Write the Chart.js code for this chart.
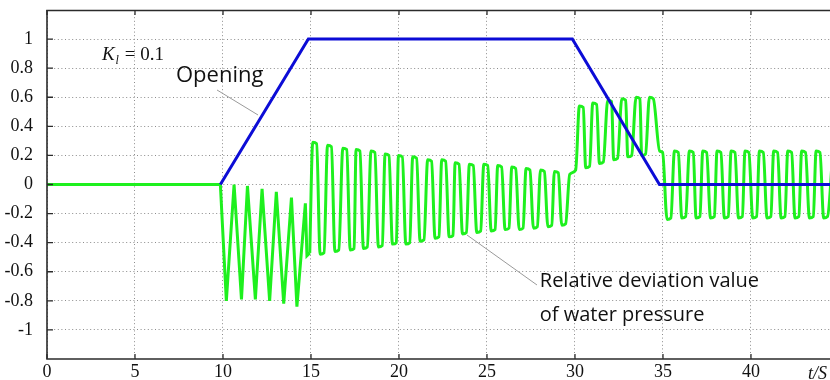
<!DOCTYPE html>
<html><head><meta charset="utf-8">
<script src="https://cdn.jsdelivr.net/npm/chart.js@4/dist/chart.umd.min.js"></script>
<style>html,body{margin:0;padding:0;background:#fff;overflow:hidden}canvas{display:block}</style>
</head><body>
<canvas id="c" width="830" height="380"></canvas>
<script>
// ---- tick labels ----
const xTicks = [0, 5, 10, 15, 20, 25, 30, 35, 40];
const yTicks = [-1, -0.8, -0.6, -0.4, -0.2, 0, 0.2, 0.4, 0.6, 0.8, 1];
const xAxisName = 't/S';

// ---- opening (blue) ----
const openingT = [9.85, 14.85, 29.85, 34.8, 44.6];
const openingV = [0, 1, 1, 0, 0];

// ---- relative deviation of water pressure (green) ----
// segment 0-15 s (sharp triangular oscillation)
const devA_T = [0, 9.85, 10.19, 10.63, 11.05, 11.39, 11.84, 12.22, 12.65, 13.03, 13.45, 13.89, 14.20, 14.68, 14.77, 14.93];
const devA_V = [0, 0, -0.80, 0.00, -0.79, -0.01, -0.79, -0.03, -0.80, -0.05, -0.82, -0.09, -0.84, -0.13, -0.49, -0.47];
// segment 15-30 s
const devB_T = [14.93,
  15.10, 15.32, 15.52, 15.74, 15.94, 16.16, 16.36, 16.58, 16.81, 17.03, 17.23, 17.45,
  17.56, 17.78, 17.98, 18.20, 18.41, 18.63, 18.83, 19.05, 19.21, 19.43, 19.63, 19.85,
  19.97, 20.19, 20.39, 20.61, 20.78, 21.00, 21.20, 21.42, 21.63, 21.85, 22.05, 22.27,
  22.43, 22.65, 22.85, 23.07, 23.19, 23.41, 23.61, 23.83, 24.00, 24.22, 24.42, 24.64,
  24.82, 25.04, 25.24, 25.46, 25.61, 25.83, 26.03, 26.25, 26.41, 26.63, 26.83, 27.05,
  27.22, 27.44, 27.64, 27.86, 28.04, 28.26, 28.46, 28.68, 28.83, 29.05, 29.25, 29.47,
  29.70, 30.04];
const devB_V = [-0.47,
  0.29, 0.28, -0.48, -0.47, 0.27, 0.26, -0.46, -0.45, 0.25, 0.24, -0.45, -0.44,
  0.24, 0.23, -0.44, -0.43, 0.23, 0.22, -0.43, -0.42, 0.21, 0.20, -0.41, -0.40,
  0.20, 0.19, -0.41, -0.40, 0.19, 0.18, -0.39, -0.38, 0.17, 0.16, -0.37, -0.36,
  0.17, 0.16, -0.36, -0.35, 0.15, 0.14, -0.34, -0.33, 0.14, 0.13, -0.33, -0.32,
  0.14, 0.13, -0.32, -0.31, 0.13, 0.12, -0.31, -0.30, 0.12, 0.11, -0.31, -0.30,
  0.11, 0.10, -0.30, -0.29, 0.10, 0.09, -0.29, -0.28, 0.09, 0.08, -0.28, -0.27,
  0.07, 0.10];
// segment 30-35 s
const devC_T = [30.25, 30.47, 30.61, 30.83, 31.01, 31.23, 31.39, 31.61, 31.86, 32.08, 32.20, 32.42,
  32.66, 32.88, 33.00, 33.22, 33.47, 33.69, 33.79, 34.01, 34.23, 34.45, 34.81, 34.98];
const devC_V = [0.54, 0.53, 0.115, 0.125, 0.56, 0.55, 0.145, 0.155, 0.58, 0.57, 0.17, 0.18,
  0.59, 0.58, 0.19, 0.20, 0.60, 0.59, 0.20, 0.21, 0.60, 0.59, 0.23, 0.22];
// segment 35 s onwards
const devD_T = [35.23, 35.45, 35.65, 35.87, 36.07, 36.29, 36.50, 36.72, 36.88, 37.10, 37.26, 37.48,
  37.70, 37.92, 38.07, 38.29, 38.49, 38.71, 38.87, 39.09, 39.29, 39.51, 39.66, 39.88,
  40.10, 40.32, 40.48, 40.70, 40.91, 41.13, 41.29, 41.51, 41.71, 41.93, 42.09, 42.31,
  42.50, 42.72, 42.88, 43.10, 43.32, 43.54, 43.70, 43.92, 44.13, 44.35, 44.65];
const devD_V = [-0.24, -0.23, 0.23, 0.22, -0.23, -0.22, 0.23, 0.22, -0.23, -0.22, 0.23, 0.22,
  -0.23, -0.22, 0.23, 0.22, -0.23, -0.22, 0.23, 0.22, -0.23, -0.22, 0.23, 0.22,
  -0.23, -0.22, 0.23, 0.22, -0.23, -0.22, 0.23, 0.22, -0.23, -0.22, 0.23, 0.22,
  -0.23, -0.22, 0.23, 0.22, -0.23, -0.22, 0.23, 0.22, -0.23, -0.22, 0.23];

const pts = (T, V) => T.map((t, i) => ({x: t, y: V[i]}));
const devTail = pts(devB_T.concat(devC_T, devD_T), devB_V.concat(devC_V, devD_V));

const GREEN = '#1ef01e', BLUE = '#0c0cd6';

const frame = {
  id: 'frame',
  afterDatasetsDraw(chart) {
    const {ctx, chartArea: a, scales: {x, y}} = chart;
    ctx.save();
    ctx.strokeStyle = '#2b2b2b';
    ctx.lineWidth = 1.6;
    ctx.beginPath();
    ctx.moveTo(a.right + 2, a.top + 0.5); ctx.lineTo(a.left, a.top + 0.5);
    ctx.lineTo(a.left, a.bottom); ctx.lineTo(a.right + 2, a.bottom);
    ctx.stroke();
    ctx.lineWidth = 1.3;
    ctx.beginPath();
    yTicks.forEach(v => { const py = y.getPixelForValue(v); ctx.moveTo(a.left, py); ctx.lineTo(a.left + 6, py); });
    xTicks.forEach(v => { const px = x.getPixelForValue(v);
      ctx.moveTo(px, a.bottom); ctx.lineTo(px, a.bottom - 5);
      ctx.moveTo(px, a.top); ctx.lineTo(px, a.top + 5); });
    ctx.stroke();

    // leader lines
    ctx.strokeStyle = '#9a9a9a'; ctx.lineWidth = 1;
    ctx.beginPath();
    ctx.moveTo(x.getPixelForValue(9.66), y.getPixelForValue(0.65));
    ctx.lineTo(x.getPixelForValue(11.99), y.getPixelForValue(0.478));
    ctx.moveTo(x.getPixelForValue(23.86), y.getPixelForValue(-0.347));
    ctx.lineTo(x.getPixelForValue(27.84), y.getPixelForValue(-0.691));
    ctx.stroke();

    ctx.fillStyle = '#111';
    ctx.textBaseline = 'alphabetic';
    ctx.textAlign = 'left';
    // K_l = 0.1
    let kx = x.getPixelForValue(3.12), ky = y.getPixelForValue(0.856);
    ctx.font = 'italic 19px "Liberation Serif"';
    ctx.fillText('K', kx, ky); kx += ctx.measureText('K').width;
    ctx.font = 'italic 12px "Liberation Serif"';
    ctx.fillText('l', kx + 1, ky + 4); kx += ctx.measureText('l').width + 2;
    ctx.font = '19px "Liberation Serif"';
    ctx.fillText(' = 0.1', kx, ky);

    ctx.font = '22px "Open Sans"';
    ctx.fillText('Opening', x.getPixelForValue(7.33), y.getPixelForValue(0.705));
    ctx.font = '20px "Open Sans"';
    ctx.fillText('Relative deviation value', x.getPixelForValue(28.0), y.getPixelForValue(-0.705));
    ctx.fillText('of water pressure', x.getPixelForValue(28.0), y.getPixelForValue(-0.939));

    ctx.font = 'italic 18px "Liberation Serif"';
    ctx.fillText(xAxisName, x.getPixelForValue(43.24), a.bottom + 20);
    ctx.restore();
  }
};

const noPad = s => { s.paddingTop = 0; s.paddingBottom = 0; s.paddingLeft = 0; s.paddingRight = 0; };

new Chart(document.getElementById('c'), {
  type: 'line',
  data: {
    datasets: [
      {label: 'Opening', data: pts(openingT, openingV), borderColor: BLUE, borderWidth: 3, pointRadius: 0, tension: 0},
      {label: 'Deviation A', data: pts(devA_T, devA_V), borderColor: GREEN, borderWidth: 3, pointRadius: 0, tension: 0},
      {label: 'Deviation B', data: devTail, borderColor: GREEN, borderWidth: 3, pointRadius: 0, cubicInterpolationMode: 'monotone'}
    ]
  },
  options: {
    responsive: false, animation: false, devicePixelRatio: 1,
    layout: {padding: {top: 10, right: 0, bottom: 0, left: 0}},
    plugins: {legend: {display: false}, tooltip: {enabled: false}},
    scales: {
      x: {
        type: 'linear', min: 0, max: 44.49,
        afterBuildTicks: s => { s.ticks = xTicks.map(v => ({value: v})); },
        afterFit: s => { s.height = 21; noPad(s); },
        grid: {color: '#8c8c8c', lineWidth: 1, drawTicks: false},
        border: {display: false, dash: [1, 2.6]},
        ticks: {padding: 2, autoSkip: false, maxRotation: 0, color: '#111',
          font: {family: '"Liberation Serif"', size: 18}, callback: v => String(v)}
      },
      y: {
        type: 'linear', min: -1.2, max: 1.2,
        afterBuildTicks: s => { s.ticks = yTicks.map(v => ({value: v})); },
        afterFit: s => { s.width = 47; noPad(s); },
        grid: {color: '#8c8c8c', lineWidth: 1, drawTicks: false},
        border: {display: false, dash: [1, 2.6]},
        ticks: {padding: 14, autoSkip: false, color: '#111',
          font: {family: '"Liberation Serif"', size: 18}, callback: v => String(v)}
      }
    }
  },
  plugins: [frame]
});
</script>
</body></html>
